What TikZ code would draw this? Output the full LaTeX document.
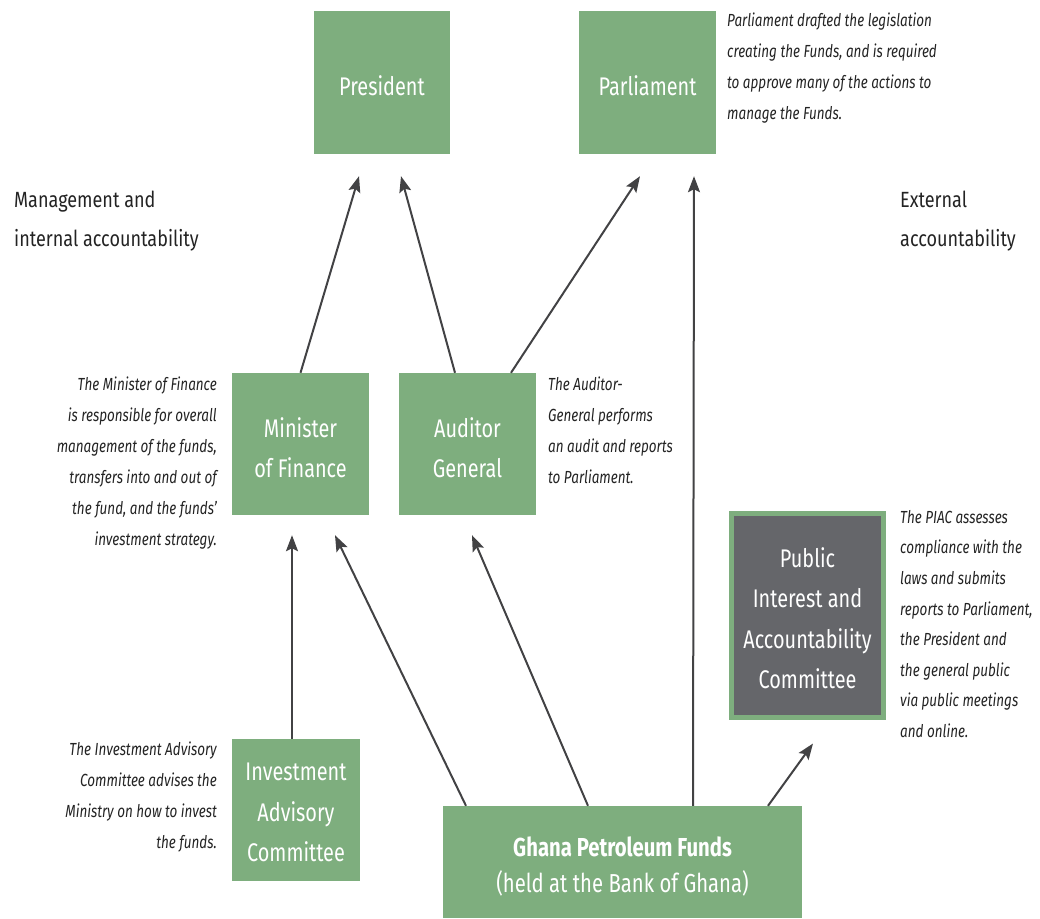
\documentclass[tikz,border=0pt]{standalone}
\usepackage{fontspec}
\setmainfont{Fira Sans}[FakeStretch=0.78]
\newfontfamily\headfont{Fira Sans}[FakeStretch=0.82]
\newfontfamily\notefont{Fira Sans}[FakeStretch=0.77]
\usetikzlibrary{arrows.meta,calc}
\definecolor{boxgreen}{RGB}{126,174,126}
\definecolor{piacgray}{RGB}{101,102,106}
\definecolor{arrowgray}{RGB}{66,66,68}
\definecolor{txtgray}{RGB}{35,35,35}
\tikzset{
  gbox/.style={fill=boxgreen, draw=none, inner sep=0pt},
  btext/.style={inner sep=0pt, text=white, align=center, font=\fontsize{25.5}{40.5}\selectfont},
  note/.style={inner sep=0pt, text=txtgray, font=\notefont\fontsize{17.5}{31}\selectfont\itshape},
  head/.style={inner sep=0pt, text=txtgray, align=left, font=\headfont\fontsize{22}{39}\selectfont},
  arr/.style={draw=arrowgray, line width=2pt, -{Stealth[length=16pt,width=12pt,inset=3pt]}}
}
\begin{document}
\begin{tikzpicture}[x=1pt,y=-1pt]
\useasboundingbox (0,0) rectangle (1040,918);
% boxes
\node[gbox, minimum width=136pt, minimum height=143pt] (pres) at (382,82.5) {};
\node[gbox, minimum width=137pt, minimum height=143pt] (parl) at (647.5,82.5) {};
\node[gbox, minimum width=137pt, minimum height=142pt] (min) at (300.5,444) {};
\node[gbox, minimum width=137pt, minimum height=142pt] (aud) at (467.5,444) {};
\node[gbox, fill=piacgray, draw=boxgreen, line width=5pt, minimum width=152pt, minimum height=204pt] (piac) at (807.5,615.5) {};
\node[gbox, minimum width=128pt, minimum height=142pt] (iac) at (296,810) {};
\node[gbox, minimum width=359pt, minimum height=112pt] (gpf) at (622.5,862) {};
% box texts
\node[btext] (tpres) at ([yshift=-3pt]pres.center) {President};
\node[btext] (tparl) at ([yshift=-3pt]parl.center) {Parliament};
\node[btext] (tmin) at ([yshift=-3.5pt]min.center) {Minister\\of Finance};
\node[btext] (taud) at ([yshift=-3.5pt]aud.center) {Auditor\\General};
\node[btext] (tpiac) at ([yshift=-2.5pt]piac.center) {Public\\Interest and\\Accountability\\Committee};
\node[btext] (tiac) at ([yshift=-2.5pt]iac.center) {Investment\\Advisory\\Committee};
\node[btext, font=\fontsize{26}{35.5}\selectfont] (tgpf) at ([yshift=-4.5pt]gpf.center) {\textbf{Ghana Petroleum Funds}\\(held at the Bank of Ghana)};
% headings
\node[head, anchor=north west] (hleft) at (14,191) {Management and\\internal accountability};
\node[head, anchor=north west] (hright) at (900,191) {External\\accountability};
% notes
\node[note, anchor=north west, align=left] (nparl) at (727,13) {Parliament drafted the legislation\\creating the Funds, and is required\\to approve many of the actions to\\manage the Funds.};
\node[note, anchor=north east, align=right] (nmin) at (217,377) {The Minister of Finance\\is responsible for overall\\management of the funds,\\transfers into and out of\\the fund, and the funds’\\investment strategy.};
\node[note, anchor=north west, align=left] (naud) at (548,377) {The Auditor-\\General performs\\an audit and reports\\to Parliament.};
\node[note, anchor=north west, align=left, font=\notefont\fontsize{17.5}{30.6}\selectfont\itshape] (npiac) at (900,510) {The PIAC assesses\\compliance with the\\laws and submits\\reports to Parliament,\\the President and\\the general public\\via public meetings\\and online.};
\node[note, anchor=north east, align=right] (niac) at (217,742) {The Investment Advisory\\Committee advises the\\Ministry on how to invest\\the funds.};
% arrows
\draw[arr] (min.north) -- ([xshift=-23pt,yshift=-22pt]pres.south);
\draw[arr] ([xshift=-12.5pt]aud.north) -- ([xshift=19pt,yshift=-22pt]pres.south);
\draw[arr] ([xshift=43.5pt]aud.north) -- ([xshift=-7.5pt,yshift=-22pt]parl.south);
\draw[arr] ([xshift=70.5pt]gpf.north) -- ([xshift=46.5pt,yshift=-22pt]parl.south);
\draw[arr] ([xshift=-4pt]iac.north) -- ([xshift=-8.5pt,yshift=-20pt]min.south);
\draw[arr] ([xshift=-156.5pt]gpf.north) -- ([xshift=34.5pt,yshift=-20pt]min.south);
\draw[arr] ([xshift=-34.5pt]gpf.north) -- ([xshift=4.5pt,yshift=-20pt]aud.south);
\draw[arr] ([xshift=145.5pt]gpf.north) -- ([xshift=5.5pt,yshift=-23.5pt]piac.south);
\end{tikzpicture}
\end{document}
